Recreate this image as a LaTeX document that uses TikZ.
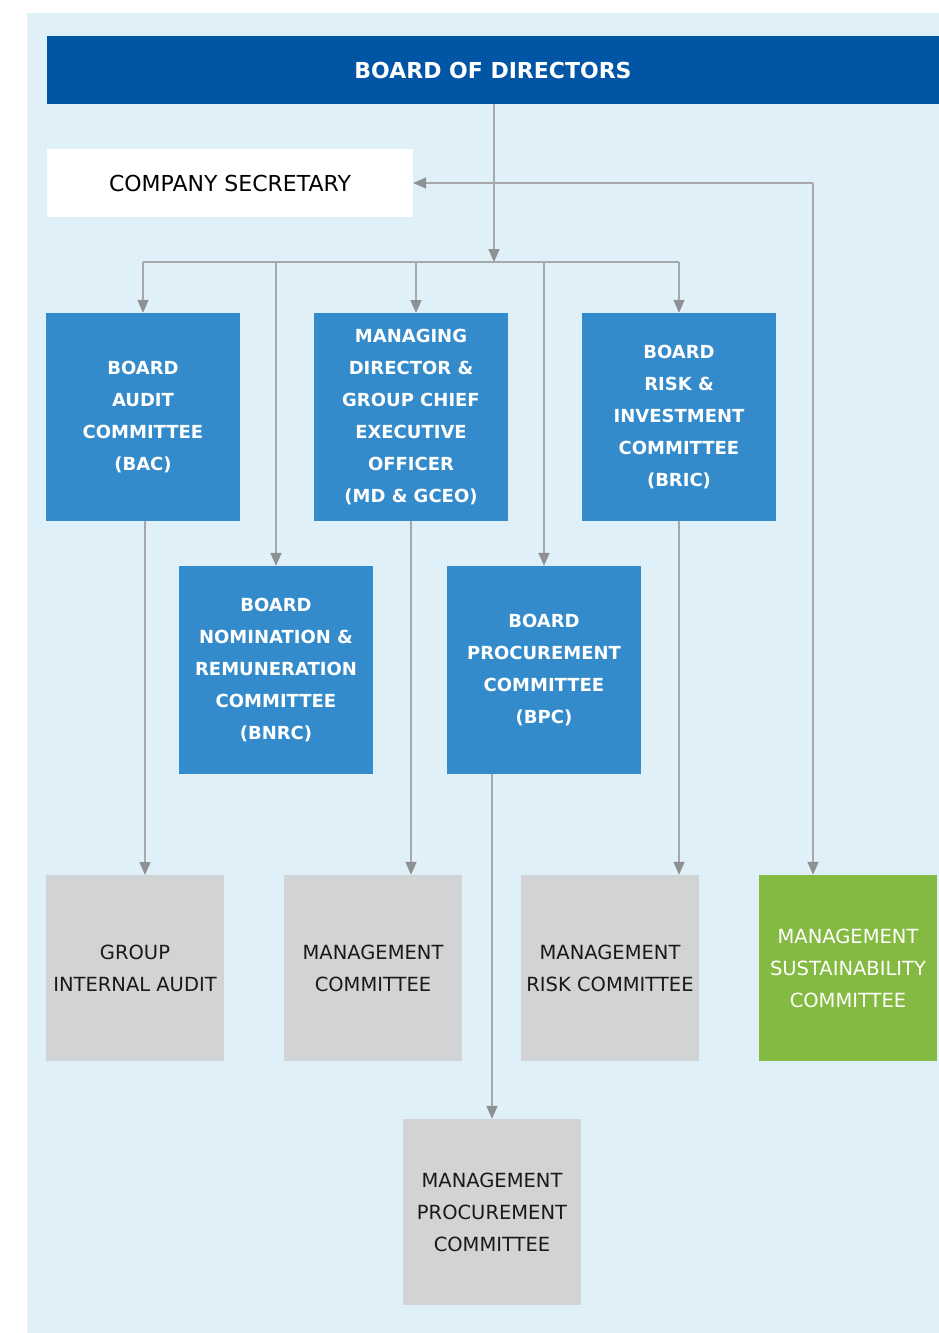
\documentclass[tikz,border=0pt]{standalone}
\usepackage{fontspec}
\setmainfont{DejaVu Sans}
\usetikzlibrary{arrows.meta}

\definecolor{bgblue}{HTML}{E0F0F8}
\definecolor{darkblue}{HTML}{0055A5}
\definecolor{boxblue}{HTML}{348BCB}
\definecolor{boxgray}{HTML}{D1D3D5}
\definecolor{boxgreen}{HTML}{84BA41}
\definecolor{linegray}{HTML}{A6A8AB}
\definecolor{tipgray}{HTML}{8E9094}

\tikzset{
  comm/.style={fill=boxblue, text=white, font=\bfseries\fontsize{18}{32}\selectfont,
    minimum width=194pt, minimum height=208pt, align=center, inner sep=0pt},
  mgmt/.style={fill=boxgray, text=black!90, font=\fontsize{19.5}{32}\selectfont,
    minimum width=178pt, minimum height=186pt, align=center, inner sep=0pt},
  ln/.style={draw=linegray, line width=1.5pt},
  arr/.style={ln, -{Triangle[length=13pt,width=11pt,color=tipgray]}},
}

\begin{document}
\begin{tikzpicture}[x=1pt,y=-1pt]
  \useasboundingbox (0,0) rectangle (939,1333);
  \fill[bgblue] (27,13) rectangle (939,1333);

  % top of the tree
  \node[fill=darkblue, text=white, font=\bfseries\fontsize{22}{26}\selectfont,
    minimum width=892pt, minimum height=68pt, inner sep=0pt] (bod) at (493,70) {BOARD OF DIRECTORS};
  \node[fill=white, font=\fontsize{22}{26}\selectfont,
    minimum width=366pt, minimum height=68pt, inner sep=0pt] (sec) at (230,183) {COMPANY SECRETARY};

  % board committees
  \node[comm] (bac) at (143,417) {BOARD\\AUDIT\\COMMITTEE\\(BAC)};
  \node[comm] (md) at (411,417) {MANAGING\\DIRECTOR \&\\GROUP CHIEF\\EXECUTIVE\\OFFICER\\(MD \& GCEO)};
  \node[comm] (bric) at (679,417) {BOARD\\RISK \&\\INVESTMENT\\COMMITTEE\\(BRIC)};
  \node[comm] (bnrc) at (276,670) {BOARD\\NOMINATION \&\\REMUNERATION\\COMMITTEE\\(BNRC)};
  \node[comm] (bpc) at (544,670) {BOARD\\PROCUREMENT\\COMMITTEE\\(BPC)};

  % management level
  \node[mgmt] (gia) at (135,968) {GROUP\\INTERNAL AUDIT};
  \node[mgmt] (mc) at (373,968) {MANAGEMENT\\COMMITTEE};
  \node[mgmt] (mrc) at (610,968) {MANAGEMENT\\RISK COMMITTEE};
  \node[mgmt, fill=boxgreen, text=white] (msc) at (848,968) {MANAGEMENT\\SUSTAINABILITY\\COMMITTEE};
  \node[mgmt] (mpc) at (492,1212) {MANAGEMENT\\PROCUREMENT\\COMMITTEE};

  \coordinate (bus) at (494,262);
  \coordinate (corner) at (813,183);

  % connectors
  \draw[arr] (bod.south -| bus) -- (bus);
  \draw[ln] (bac.north |- bus) -- (bric.north |- bus);
  \foreach \n in {bac,bnrc,bric}
    \draw[arr] (\n.north |- bus) -- (\n.north);
  \draw[arr] (416,262) -- (416,313);
  \draw[arr] (544,262) -- (bpc.north);
  \draw[arr] (corner) -- (sec.east);
  \draw[arr] (corner) -- (corner |- msc.north);

  \draw[arr] (145,521) -- (145,875);
  \draw[arr] (md.south) -- (md.south |- mc.north);
  \draw[arr] (bric.south) -- (bric.south |- mrc.north);
  \draw[arr] (bpc.south -| mpc.north) -- (mpc.north);
\end{tikzpicture}
\end{document}
